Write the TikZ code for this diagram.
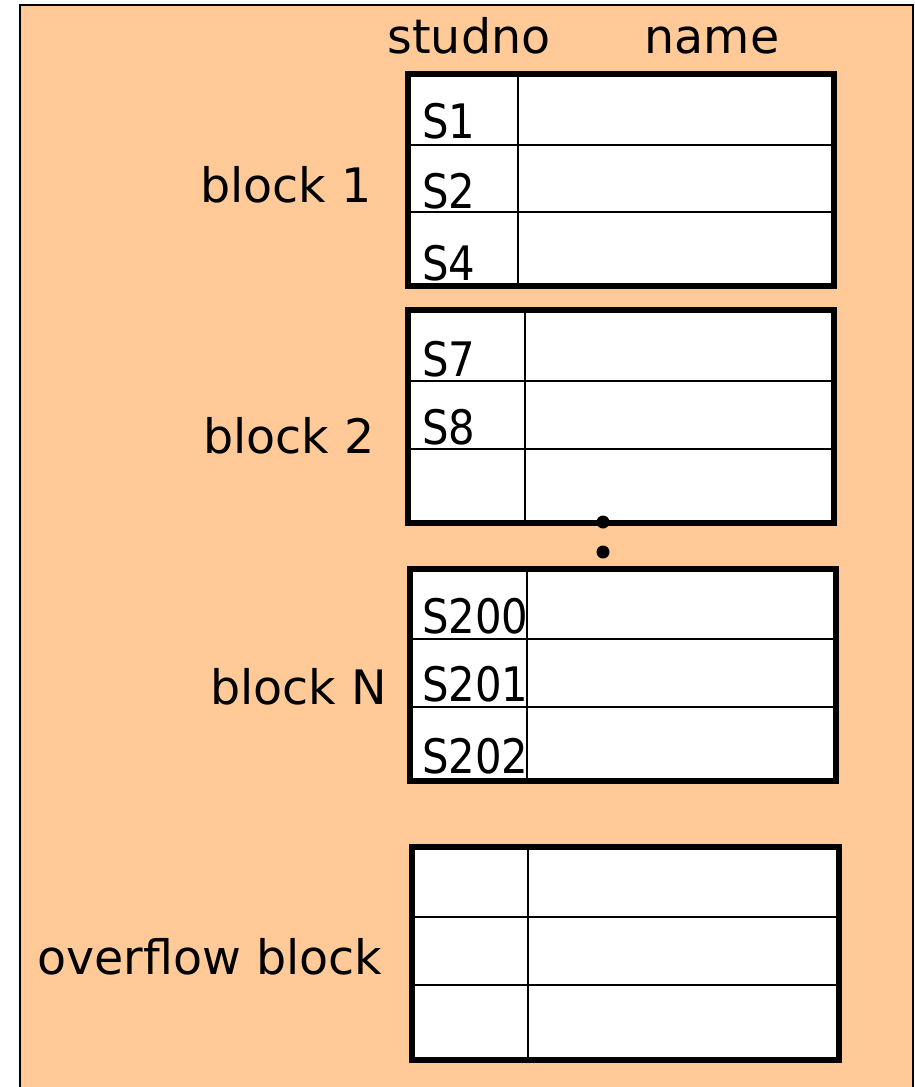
\documentclass[tikz,border=0pt]{standalone}
\usepackage{fontspec}
\setmainfont{DejaVu Sans}
\newfontfamily\cellfont[FakeStretch=0.88]{DejaVu Sans}
\definecolor{peach}{HTML}{FFCA98}
\tikzset{
  lbl/.style={inner sep=0pt, anchor=base west, font=\fontsize{47.5}{56}\selectfont},
  hdr/.style={inner sep=0pt, anchor=base, font=\fontsize{47.5}{56}\selectfont},
  cell/.style={inner sep=0pt, anchor=base west, font=\cellfont\fontsize{47.5}{56}\selectfont},
  frame/.style={line width=6pt},
  rule/.style={line width=1.8pt},
  dot/.style={circle, fill=black, inner sep=0pt, minimum size=13pt}
}
% \blocktable{name}{left}{top}{right}{bottom}{column x}{row 1 y}{row 2 y}
\newcommand{\blocktable}[8]{%
  \path[fill=white] (#2,#3) rectangle (#4,#5);
  \draw[rule] (#6,#3) -- (#6,#5);
  \draw[rule] (#2,#7) -- (#4,#7);
  \draw[rule] (#2,#8) -- (#4,#8);
  \draw[frame] (#2,#3) rectangle (#4,#5);
  \coordinate (#1-nw) at (#2,#3);
  \coordinate (#1-se) at (#4,#5);
}
\begin{document}
\begin{tikzpicture}[x=1pt, y=-1pt]
\useasboundingbox (0,0) rectangle (914,1087);
% page background with its frame
\fill[peach] (20,5) rectangle (913,1090);
\draw[line width=2.2pt] (20,1090) -- (20,5) -- (913,5) -- (913,1090);

% column headings
\node[hdr] (hstud) at (469,53) {studno};
\node[hdr] (hname) at (712,53) {name};

% the blocks of the file
\blocktable{b1}{408}{74}{834}{286}{518}{145}{212}
\blocktable{b2}{408}{310}{834}{523}{525}{381}{449}
\blocktable{bn}{410}{569}{836}{781}{527}{639}{707}
\blocktable{bo}{412}{847}{839}{1060}{528}{917}{985}

% block labels
\node[lbl] (l1) at (200,202) {block 1};
\node[lbl] (l2) at (203,453) {block 2};
\node[lbl] (ln) at (210,704) {block N};
\node[lbl] (lo) at (37,974) {overflow block};

% student numbers
\node[cell] (s1) at (422,138) {S1};
\node[cell] (s2) at (422,208) {S2};
\node[cell] (s4) at (422,280) {S4};
\node[cell] (s7) at (422,376) {S7};
\node[cell] (s8) at (422,444) {S8};
\node[cell] (s200) at (422,633) {S200};
\node[cell] (s201) at (422,701) {S201};
\node[cell] (s202) at (422,773) {S202};

% ellipsis between block 2 and block N
\node[dot] (d1) at (603,522) {};
\node[dot] (d2) at (603,552) {};
\end{tikzpicture}
\end{document}
